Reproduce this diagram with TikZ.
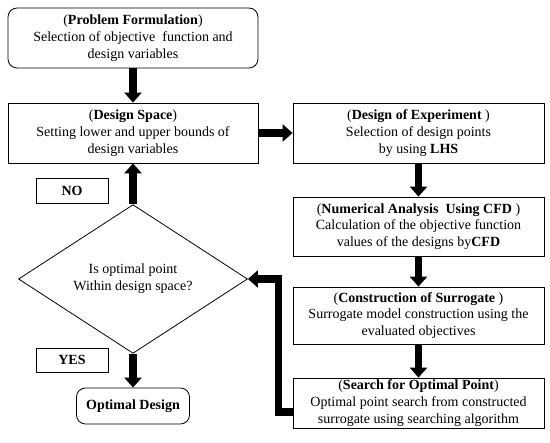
\documentclass[tikz,border=0pt]{standalone}
\usepackage{fontspec}
\setmainfont{Liberation Serif}
\usetikzlibrary{arrows.meta,shapes.geometric}
\tikzset{
  box/.style={draw, line width=0.8pt, align=center, inner sep=0pt,
    font=\fontsize{14}{16.8}\selectfont},
  roundbox/.style={box, rounded corners=9pt},
  bigarrow/.style={line width=7.5pt, -{Triangle[length=10pt,width=17pt]}},
}
\begin{document}
\begin{tikzpicture}[x=1pt,y=-1pt]
  \useasboundingbox (0,0) rectangle (550,443);
  % left column
  \node[roundbox, minimum width=250pt, minimum height=60pt] (prob) at (133,38)
    {({\bfseries Problem Formulation})\\Selection of objective\ \ function and\\design variables};
  \node[box, minimum width=250pt, minimum height=60pt] (space) at (133,133)
    {({\bfseries Design Space})\\Setting lower and upper bounds of\\design variables};
  \node[box, draw, shape=diamond, minimum width=229pt, minimum height=132pt] (dec) at (133,279)
    {Is optimal point\\Within design space?};
  \node[box, minimum width=72pt, minimum height=25pt, font=\fontsize{14}{16.8}\selectfont\bfseries] (no) at (72,190.5) {NO};
  \node[box, minimum width=72pt, minimum height=24pt, font=\fontsize{14}{16.8}\selectfont\bfseries] (yes) at (72,360) {YES};
  \node[roundbox, minimum width=113pt, minimum height=36pt, font=\fontsize{14}{16.8}\selectfont\bfseries] (opt) at (133,406) {Optimal Design};
  % right column
  \node[box, minimum width=251pt, minimum height=60pt] (doe) at (418.5,133)
    {({\bfseries Design of Experiment} )\\Selection of design points\\by using {\bfseries LHS}};
  \node[box, minimum width=251pt, minimum height=59pt] (num) at (418.5,226.5)
    {({\bfseries Numerical Analysis\ \ Using CFD} )\\Calculation of the objective function\\values of the designs by{\bfseries CFD}};
  \node[box, minimum width=251pt, minimum height=57pt] (surr) at (418.5,315.5)
    {({\bfseries Construction of Surrogate} )\\Surrogate model construction using the\\evaluated objectives};
  \node[box, minimum width=251pt, minimum height=50pt] (search) at (418.5,403)
    {({\bfseries Search for Optimal Point})\\Optimal point search from constructed\\surrogate using searching algorithm};
  % arrows
  \draw[bigarrow] (prob) -- (space);
  \draw[bigarrow] (space.east) -- (doe.west);
  \foreach \a/\b in {doe/num,num/surr,surr/search} {
    \draw[bigarrow] (\a) -- (\b);
  }
  \draw[bigarrow] (dec.north) -- (space.south);
  \draw[bigarrow] (dec.south) -- (opt.north);
  \draw[bigarrow] ([yshift=-9pt]search.west) -- ++(-14,0) |- (dec.east);
\end{tikzpicture}
\end{document}
